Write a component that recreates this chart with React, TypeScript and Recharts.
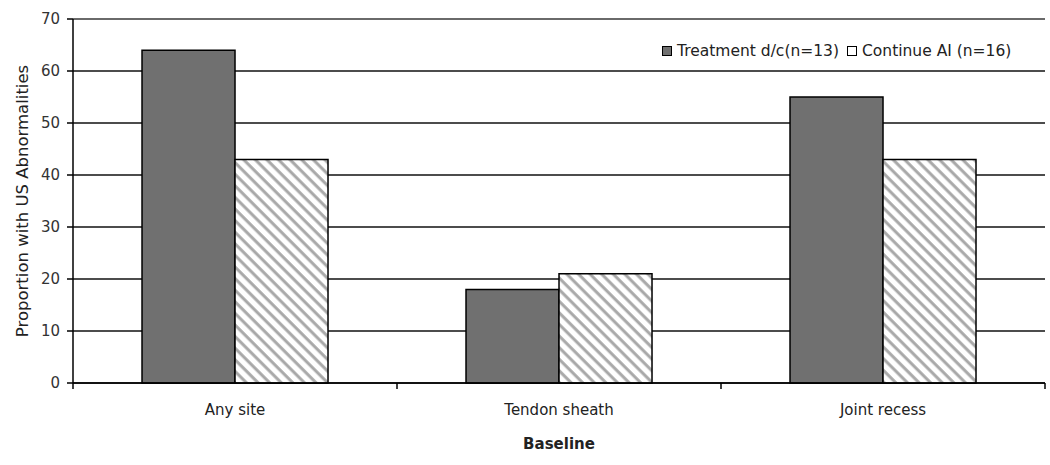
import React from 'react';
import { BarChart, Bar, XAxis, YAxis, CartesianGrid, ReferenceLine } from 'recharts';

const categories = ['Any site', 'Tendon sheath', 'Joint recess'];
const treatmentDc = [64, 18, 55];
const continueAi = [43, 21, 43];
const yTicks = [0, 10, 20, 30, 40, 50, 60, 70];
const seriesNames = ['Treatment d/c(n=13)', 'Continue AI (n=16)'];

const W = 1050;
const H = 465;
const Y_AXIS_W = 73;
const RIGHT = 5;
const BAND = (W - Y_AXIS_W - RIGHT) / categories.length;
const FONT = '"DejaVu Sans", "Liberation Sans", Arial, sans-serif';

const data = categories.map((name, i) => ({ name, treat: treatmentDc[i], cont: continueAi[i] }));

// category label centred, tick marks on the band edges (Excel style)
function CategoryTick(props: any) {
  const { x, y, payload, index } = props;
  const half = BAND / 2;
  return (
    <g>
      <line x1={x - half} x2={x - half} y1={y} y2={y + 6} stroke="#000" strokeWidth={1.5} />
      {index === categories.length - 1 && (
        <line x1={x + half} x2={x + half} y1={y} y2={y + 6} stroke="#000" strokeWidth={1.5} />
      )}
      <text x={x} y={y + 32} textAnchor="middle" fontSize={15} fill="#222" fontFamily={FONT}>
        {payload.value}
      </text>
    </g>
  );
}

function Swatch({ fill }: { fill: string }) {
  return <span style={{ display: 'inline-block', width: 8, height: 8, border: '1.5px solid #000', background: fill, marginRight: 5 }} />;
}

export default function App() {
  return (
    <div style={{ position: 'absolute', left: 0, top: 0, width: W, height: H, background: '#fff' }}>
      <BarChart width={W} height={H} data={data} margin={{ top: 19, right: RIGHT, left: 0, bottom: 0 }}
        barCategoryGap="21.3%" barGap={0}>
        <defs>
          <pattern id="hatch" patternUnits="userSpaceOnUse" width={8.2} height={8.2} patternTransform="rotate(-45)">
            <rect width={8.2} height={8.2} fill="#fff" />
            <line x1={2} y1={0} x2={2} y2={8.2} stroke="#a8a8a8" strokeWidth={3} />
          </pattern>
        </defs>
        <CartesianGrid vertical={false} stroke="#111" strokeWidth={1.5} />
        <XAxis dataKey="name" height={H - 383} tickSize={0} tickMargin={0} tickLine={false}
          axisLine={{ stroke: '#000', strokeWidth: 1.5 }} tick={<CategoryTick />} interval={0}
          label={{ value: 'Baseline', position: 'insideBottom', offset: 16, fontSize: 15, fontWeight: 'bold', fill: '#222', fontFamily: FONT }} />
        <YAxis domain={[0, 70]} ticks={yTicks} width={Y_AXIS_W} tickSize={6} tickMargin={7}
          axisLine={{ stroke: '#000', strokeWidth: 1.5 }} tickLine={{ stroke: '#000', strokeWidth: 1.5 }}
          tick={{ fontSize: 15, fill: '#333', fontFamily: FONT }}
          label={{ value: 'Proportion with US Abnormalities', angle: -90, position: 'insideLeft', offset: 22,
            style: { textAnchor: 'middle', fontSize: 16.5, fill: '#222', fontFamily: FONT } }} />
        <YAxis yAxisId="right" orientation="right" width={0} domain={[0, 70]} tick={false} tickLine={false}
          axisLine={{ stroke: '#888', strokeWidth: 1 }} />
        <ReferenceLine y={70} stroke="#888" strokeWidth={1} />
        <Bar dataKey="treat" name={seriesNames[0]} fill="#707070" stroke="#000" strokeWidth={1.5} isAnimationActive={false} />
        <Bar dataKey="cont" name={seriesNames[1]} fill="url(#hatch)" stroke="#000" strokeWidth={1.5} isAnimationActive={false} />
      </BarChart>
      <div style={{ position: 'absolute', left: 662, top: 42, fontFamily: FONT, fontSize: 15.5, color: '#222', display: 'flex', alignItems: 'center', whiteSpace: 'nowrap' }}>
        <Swatch fill="#707070" />
        <span style={{ marginRight: 8 }}>{seriesNames[0]}</span>
        <Swatch fill="#fff" />
        <span>{seriesNames[1]}</span>
      </div>
    </div>
  );
}
